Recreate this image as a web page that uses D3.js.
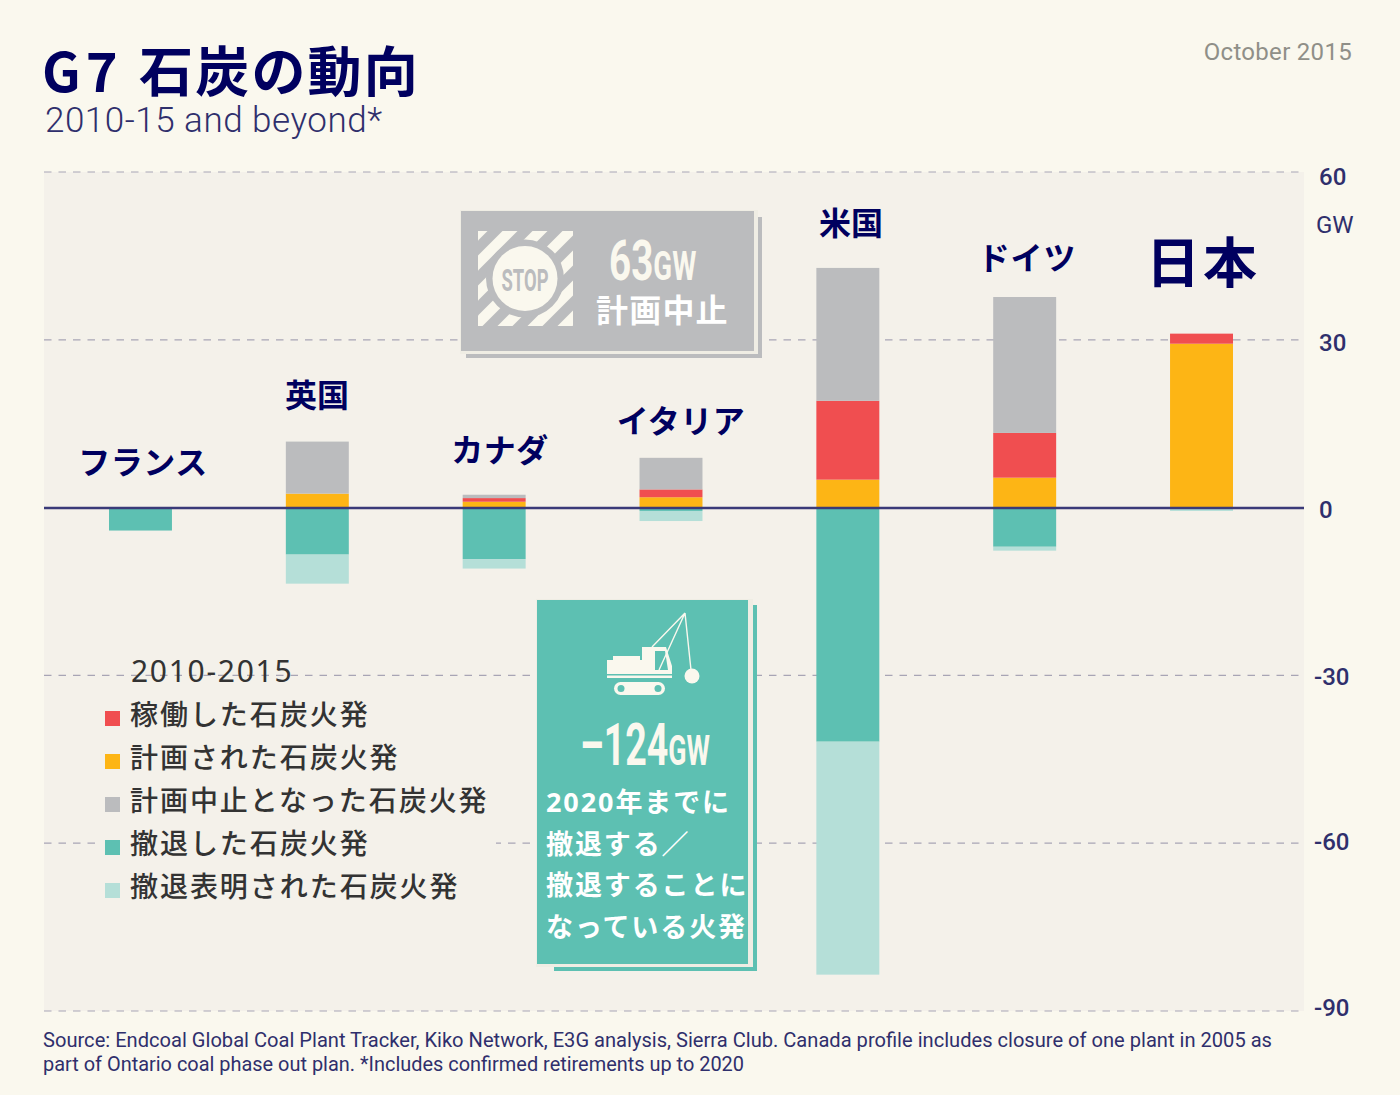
<!DOCTYPE html>
<html>
<head>
<meta charset="utf-8">
<script src="https://cdn.jsdelivr.net/npm/d3@7"></script>
<style>
html, body { margin: 0; padding: 0; background: #faf8ee; }
svg { display: block; }
text { font-family: "Noto Sans CJK JP", sans-serif; }
.din { font-family: Roboto, "Noto Sans", sans-serif; }
</style>
</head>
<body>
<svg width="1400" height="1095"></svg>
<script>
// values in GW
const countries = ['フランス', '英国', 'カナダ', 'イタリア', '米国', 'ドイツ', '日本'];
const planned   = [0, 2.5, 1.05, 1.85, 5.0, 5.35, 29.3];
const operating = [0, 0, 0.65, 1.4, 14.1, 8.0, 1.8];
const cancelled = [0, 9.3, 0.6, 5.65, 23.75, 24.3, 0];
const retired   = [-4.1, -8.4, -9.2, -0.6, -41.85, -7.0, 0];
const announced = [0, -5.2, -1.7, -1.8, -41.65, -0.7, -0.6];
const yTicks = [60, 30, 0, -30, -60, -90];

const labelSize = [32, 32, 32, 32, 32, 32, 54];
const labelGap  = [0.5, 0, 0.5, 0.5, 0, 0.8, 3];
const labelMidX = [143, 317, 500, 681, 851, 1027, 1203];
const labelBase = [474, 407, 462, 433, 235, 270, 283];

const legendLabels = ['稼働した石炭火発', '計画された石炭火発', '計画中止となった石炭火発', '撤退した石炭火発', '撤退表明された石炭火発'];
const legendKeys = ['operating', 'planned', 'cancelled', 'retired', 'announced'];
const colors = { operating: '#f04e50', planned: '#fdb515', cancelled: '#bbbcbe', retired: '#5dc0b2', announced: '#b5dfd8' };

const navy = '#00005f';
const ink = '#2f2f6c';
const cream = '#faf8ee';
const panel = '#f4f1ea';

const svg = d3.select('svg');

// panel behind the plot
const y = d3.scaleLinear().domain([-90, 60]).range([1011, 172]);
const x = d3.scaleBand().domain(countries).range([109, 1233]).paddingInner(0.644);

svg.append('rect').attr('x', 44).attr('y', 172).attr('width', 1260).attr('height', 839).attr('fill', panel);

// grid and tick labels come from the axis
const tickNudge = { 60: 13, 30: 11, 0: 10, '-30': 10, '-60': 7, '-90': 5 };
const axis = svg.append('g').attr('transform', 'translate(44,0)')
  .call(d3.axisRight(y).tickValues(yTicks).tickSize(1260).offset(0).tickFormat(d => d));
axis.select('.domain').remove();
axis.selectAll('line')
  .attr('stroke', '#a8a5b5').attr('stroke-width', 1.2).attr('stroke-dasharray', '7.5 7')
  .attr('stroke-opacity', d => d === 0 ? 0 : 1);
axis.selectAll('text')
  .attr('class', 'din')
  .attr('x', d => d < 0 ? 1270 : 1275)
  .attr('dy', d => tickNudge[d])
  .attr('fill', ink).attr('font-size', 24).attr('font-weight', 500).attr('font-family', 'Roboto');

svg.append('text').attr('class', 'din').attr('x', 1316).attr('y', 233)
  .attr('fill', ink).attr('font-size', 24).text('GW');

// stacked bars
const rows = countries.map((c, i) => ({
  country: c, planned: planned[i], operating: operating[i], cancelled: cancelled[i], retired: retired[i], announced: announced[i]
}));
const stack = d3.stack()
  .keys(['planned', 'operating', 'cancelled', 'retired', 'announced'])
  .offset(d3.stackOffsetDiverging);

svg.append('g').selectAll('g').data(stack(rows)).join('g')
  .attr('fill', s => colors[s.key])
  .selectAll('rect').data(s => s).join('rect')
  .attr('x', d => x(d.data.country))
  .attr('width', x.bandwidth())
  .attr('y', d => y(d[1]))
  .attr('height', d => y(d[0]) - y(d[1]));

// zero line
svg.append('line').attr('x1', 44).attr('x2', 1304).attr('y1', y(0) + 0.4).attr('y2', y(0) + 0.4)
  .attr('stroke', '#3a3a78').attr('stroke-width', 2.4);

// country names
svg.append('g').selectAll('text').data(countries).join('text')
  .attr('x', (d, i) => labelMidX[i])
  .attr('y', (d, i) => labelBase[i])
  .attr('text-anchor', 'middle')
  .attr('font-size', (d, i) => labelSize[i])
  .attr('letter-spacing', (d, i) => labelGap[i])
  .attr('font-weight', 700)
  .attr('fill', navy)
  .text(d => d);

// title block
svg.append('text').attr('x', 42).attr('y', 92).attr('font-size', 54).attr('font-weight', 700)
  .attr('fill', navy).attr('letter-spacing', 2.2)
  .html('<tspan letter-spacing="5">G7</tspan><tspan x="139">石炭の動向</tspan>');
svg.append('text').attr('class', 'din').attr('x', 45).attr('y', 132).attr('font-size', 35).attr('font-weight', 300)
  .attr('fill', ink).attr('textLength', 337).attr('lengthAdjust', 'spacing').text('2010-15 and beyond*');
svg.append('text').attr('class', 'din').attr('x', 1352).attr('y', 60).attr('text-anchor', 'end')
  .attr('font-size', 24).attr('fill', '#8f8f88').attr('letter-spacing', 0.3).text('October 2015');

// legend, sits on a patch that hides the lower grid line
svg.append('rect').attr('x', 100).attr('y', 692).attr('width', 396).attr('height', 215).attr('fill', panel);
svg.append('text').attr('x', 131).attr('y', 682).attr('font-size', 30).attr('fill', '#333')
  .style('font-family', '"Noto Sans"').attr('letter-spacing', 1.7).text('2010-2015');
const legend = svg.append('g').selectAll('g').data(legendKeys).join('g')
  .attr('transform', (d, i) => `translate(105,${711 + i * 43})`);
legend.append('rect').attr('width', 15).attr('height', 15).attr('fill', d => colors[d]);
legend.append('text').attr('x', 25).attr('y', 14).attr('font-size', 28).attr('font-weight', 500).attr('letter-spacing', 1.95)
  .attr('fill', '#333').text((d, i) => legendLabels[i]);

// STOP callout
const stop = svg.append('g');
stop.append('rect').attr('x', 466).attr('y', 217).attr('width', 296).attr('height', 141).attr('fill', '#bbbcbe');
stop.append('rect').attr('x', 460).attr('y', 210).attr('width', 298).attr('height', 144).attr('fill', '#efede4');
stop.append('rect').attr('x', 461).attr('y', 211).attr('width', 293).attr('height', 140).attr('fill', '#bbbcbe');
svg.append('defs').append('clipPath').attr('id', 'stopclip')
  .append('rect').attr('x', 478).attr('y', 231).attr('width', 95).attr('height', 95);
const stripes = stop.append('g').attr('clip-path', 'url(#stopclip)');
[-90, -60, -30, 0, 30, 60, 90].forEach(d => {
  stripes.append('line').attr('x1', 465 + d).attr('y1', 336).attr('x2', 595 + d).attr('y2', 206)
    .attr('stroke', cream).attr('stroke-width', 10.6);
});
stripes.append('circle').attr('cx', 525).attr('cy', 278.5).attr('r', 39).attr('fill', '#bbbcbe');
stop.append('circle').attr('cx', 525).attr('cy', 278.5).attr('r', 32.5).attr('fill', cream);
stop.append('text').attr('class', 'din').attr('x', 525).attr('y', 291).attr('text-anchor', 'middle')
  .attr('font-size', 32).attr('font-weight', 700).attr('fill', '#bbbcbe')
  .attr('textLength', 47).attr('lengthAdjust', 'spacingAndGlyphs').text('STOP');
stop.append('text').attr('class', 'din').attr('transform', 'translate(609,280) scale(0.69,1)')
  .attr('fill', cream).attr('font-weight', 700)
  .html('<tspan font-size="56">63</tspan><tspan font-size="40">GW</tspan>');
stop.append('text').attr('x', 596).attr('y', 322).attr('font-size', 32).attr('font-weight', 700)
  .attr('letter-spacing', 1.2).attr('fill', '#fff').text('計画中止');

// retirement callout
const ret = svg.append('g');
ret.append('rect').attr('x', 554).attr('y', 605).attr('width', 203).attr('height', 366).attr('fill', '#5dc0b2');
ret.append('rect').attr('x', 536).attr('y', 599).attr('width', 217).attr('height', 368).attr('fill', '#efede4');
ret.append('rect').attr('x', 537).attr('y', 600).attr('width', 211).attr('height', 364).attr('fill', '#5dc0b2');

// crane icon
const crane = ret.append('g');
crane.append('path').attr('fill', cream)
  .attr('d', 'M607 660V678H672L672 666 666 647H642V660H640V656H613V660Z');
crane.append('rect').attr('x', 607).attr('y', 674).attr('width', 65).attr('height', 1.5).attr('fill', '#5dc0b2');
crane.append('path').attr('fill', '#5dc0b2').attr('d', 'M655 651H665L668 670H655Z');
crane.append('rect').attr('x', 614).attr('y', 682).attr('width', 51).attr('height', 13).attr('rx', 6.5).attr('fill', cream);
[621, 658].forEach(cx => crane.append('circle').attr('cx', cx).attr('cy', 688.5).attr('r', 3.5).attr('fill', '#5dc0b2'));
crane.append('circle').attr('cx', 692).attr('cy', 676).attr('r', 7.5).attr('fill', cream);
crane.append('path').attr('fill', 'none').attr('stroke', cream).attr('stroke-width', 1.4)
  .attr('d', 'M652 647L685 613L659 670M685 613L691 670');

ret.append('text').attr('class', 'din').attr('transform', 'translate(580,765) scale(0.637,1)')
  .attr('fill', cream).attr('font-weight', 700)
  .html('<tspan font-size="59">–124</tspan><tspan font-size="42">GW</tspan>');
const retLines = ['<tspan style="font-family:\'Noto Sans\'">2020</tspan>年までに', '撤退する／', '撤退することに', 'なっている火発'];
retLines.forEach((t, i) => {
  ret.append('text').attr('x', 546).attr('y', 812 + i * 41.6).attr('font-size', 27).attr('font-weight', 700)
    .attr('letter-spacing', 1.9).attr('fill', '#fff').html(t);
});

// footnote
svg.append('text').attr('class', 'din').attr('x', 43).attr('y', 1047).attr('font-size', 20).attr('fill', ink)
  .attr('textLength', 1229).attr('lengthAdjust', 'spacingAndGlyphs')
  .text('Source: Endcoal Global Coal Plant Tracker, Kiko Network, E3G analysis, Sierra Club. Canada profile includes closure of one plant in 2005 as');
svg.append('text').attr('class', 'din').attr('x', 43).attr('y', 1071).attr('font-size', 20).attr('fill', ink)
  .attr('textLength', 701).attr('lengthAdjust', 'spacingAndGlyphs')
  .text('part of Ontario coal phase out plan. *Includes confirmed retirements up to 2020');
</script>
</body>
</html>
